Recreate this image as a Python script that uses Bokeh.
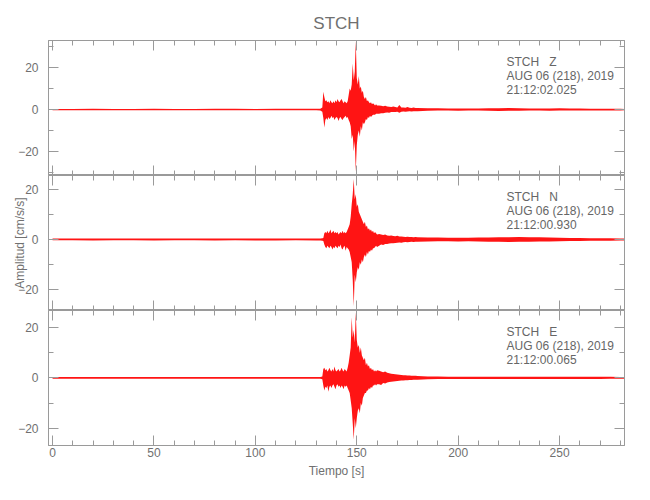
import math
from bokeh.plotting import figure
from bokeh.layouts import column
from bokeh.models import Range1d, LinearAxis, Label, FixedTicker, ColumnDataSource
from bokeh.embed import file_html
from bokeh.resources import INLINE

# ---------------- data ----------------
station = "STCH"
date_text = "AUG 06 (218), 2019"
components = ["Z", "N", "E"]
start_times = ["21:12:02.025", "21:12:00.930", "21:12:00.065"]

x_major_ticks = [0, 50, 100, 150, 200, 250]
x_minor_ticks = [0, 10, 20, 30, 40, 50, 60, 70, 80, 90, 100, 110, 120, 130, 140, 150,
                 160, 170, 180, 190, 200, 210, 220, 230, 240, 250, 260, 270, 280]
y_major_ticks = [-20, 0, 20]
y_minor_ticks = [-30, -20, -10, 0, 10, 20, 30]

# sample times [s]
quiet_t = [0, 10, 20, 30, 40, 50, 60, 70, 80, 90, 100, 110, 120, 130, 132]
event_t = [133, 133.5, 134, 134.5, 135, 135.5, 136, 136.5, 137, 137.5, 138, 138.5, 139, 139.5,
           140, 140.5, 141, 141.5, 142, 142.5, 143, 143.5, 144, 144.5, 145, 145.5, 146, 146.5,
           147, 147.5, 148, 148.5, 149, 149.5, 150, 150.5, 151, 151.5, 152, 152.5, 153, 153.5,
           154, 154.5, 155, 155.5, 156, 156.5, 157, 157.5, 158, 158.5, 159, 159.5, 160]
late_t = [161, 162, 163, 164, 165, 166, 167, 168, 169, 170, 171, 172, 173, 174, 175, 176,
          177, 178, 179, 180]
tail_t = [185, 190, 195, 200, 205, 210, 215, 220, 225, 230, 235, 240, 245, 250, 255, 260,
          265, 270, 275, 280, 282]

# Z component: upper / lower envelope of the trace [cm/s/s]
z_up_quiet = [0.3, 0.3, 0.35, 0.3, 0.3, 0.35, 0.3, 0.3, 0.35, 0.35, 0.3, 0.35, 0.35, 0.35, 0.4]
z_lo_quiet = [-0.3, -0.35, -0.3, -0.3, -0.35, -0.3, -0.3, -0.35, -0.3, -0.35, -0.35, -0.3, -0.35, -0.35, -0.4]
z_up_event = [1, 8.5, 6, 4, 4.5, 3.5, 4, 3, 4.5, 3.5, 3, 4, 3, 4.5, 3.5, 5, 4, 3.5, 4.5, 5,
              4, 3, 4, 3.5, 3, 4, 7, 10, 9, 12, 22, 14, 18, 32.5, 15, 12, 16, 10, 11, 8,
              9, 6, 5, 6, 4, 4.5, 3.5, 3, 3.5, 2.5, 3, 2.5, 2, 2.5, 2]
z_lo_event = [-1, -4, -8.5, -5, -4, -5, -3.5, -4.5, -4, -3, -4, -3.5, -5, -4, -3.5, -4, -5.5, -4, -3.5, -4.5,
              -5, -4, -3.5, -3, -4, -3.5, -5, -6, -8, -14, -12, -20, -15, -29.5, -17, -12, -10, -13, -8, -10,
              -6, -7, -6, -4.5, -5, -3.5, -4, -3, -3.5, -3, -2.5, -2.5, -2.5, -2, -2]
z_up_late = [2, 1.8, 1.6, 1.8, 1.5, 1.4, 1.2, 1.5, 1.2, 1.0, 2.2, 1.0, 1.0, 0.9, 1.2, 0.9, 0.8, 1.0, 0.8, 0.8]
z_lo_late = [-2, -1.7, -1.8, -1.5, -1.4, -1.5, -1.2, -1.2, -1.1, -1.0, -1.5, -1.0, -0.9, -1.0, -0.9, -0.8,
             -0.9, -0.8, -0.8, -0.8]
z_up_tail = [0.6, 0.6, 0.5, 0.5, 0.5, 0.5, 0.6, 0.6, 0.7, 0.6, 0.5, 0.5, 0.5, 0.6, 0.5, 0.5, 0.4, 0.4, 0.4, 0.4, 0.3]
z_lo_tail = [-0.6, -0.5, -0.5, -0.6, -0.5, -0.5, -0.6, -0.7, -0.6, -0.6, -0.5, -0.5, -0.6, -0.5, -0.5, -0.4,
             -0.4, -0.4, -0.4, -0.4, -0.3]

# N component
n_up_quiet = [0.35, 0.35, 0.35, 0.4, 0.35, 0.35, 0.4, 0.35, 0.35, 0.4, 0.4, 0.35, 0.4, 0.4, 0.4]
n_lo_quiet = [-0.35, -0.35, -0.4, -0.35, -0.35, -0.4, -0.35, -0.35, -0.4, -0.35, -0.4, -0.4, -0.35, -0.4, -0.4]
n_up_event = [0.5, 0.6, 2.5, 3, 2.5, 3.5, 2.5, 3, 4, 2.5, 3, 3.5, 2.5, 3, 2.5, 3, 2, 2.5, 3, 2.5,
              3.5, 2.5, 3, 2.5, 3, 4, 5, 6, 9, 14, 18, 24, 16, 18, 13, 14, 11, 10, 9, 8,
              7, 6, 7, 5, 5.5, 4, 4.5, 3.5, 4, 3, 3.5, 2.5, 3, 2.5, 2]
n_lo_event = [-0.5, -0.6, -2, -3, -3.5, -2.5, -3, -3.5, -2.5, -3, -4, -3, -3.5, -2.5, -3, -3.5, -2.5, -3, -2, -3.5,
              -4, -3, -2.5, -4.5, -3, -3.5, -4, -5, -7, -9, -16, -26.5, -14, -17, -13, -11, -12, -9, -10, -8,
              -9, -7, -6, -7, -5, -6, -4.5, -5, -4, -4.5, -3.5, -3.5, -3, -2.5, -3]
n_up_late = [2.2, 2, 1.8, 2, 1.6, 1.5, 1.6, 1.4, 1.3, 1.5, 1.2, 1.2, 1.1, 1.0, 1.1, 1.0, 1.0, 0.9, 1.0, 0.9]
n_lo_late = [-2.5, -2, -2.2, -1.8, -1.8, -1.6, -1.5, -1.5, -1.4, -1.3, -1.2, -1.3, -1.1, -1.0, -1.1, -1.0,
             -0.9, -1.0, -0.9, -0.9]
n_up_tail = [0.8, 0.8, 0.7, 0.7, 0.7, 0.8, 0.8, 0.9, 0.9, 1.0, 0.9, 0.9, 0.8, 0.7, 0.6, 0.6, 0.5, 0.5, 0.5, 0.4, 0.4]
n_lo_tail = [-0.8, -0.7, -0.7, -0.8, -0.7, -0.8, -0.9, -0.9, -1.0, -0.9, -0.9, -0.8, -0.8, -0.7, -0.6, -0.6,
             -0.5, -0.5, -0.5, -0.4, -0.4]

# E component
e_up_quiet = [0.35, 0.35, 0.3, 0.35, 0.35, 0.3, 0.35, 0.35, 0.35, 0.3, 0.35, 0.35, 0.35, 0.35, 0.35]
e_lo_quiet = [-0.35, -0.3, -0.35, -0.35, -0.3, -0.35, -0.35, -0.3, -0.35, -0.35, -0.35, -0.3, -0.35, -0.35, -0.35]
e_up_event = [0.5, 3.5, 4, 3, 3.5, 2.5, 3, 4, 3, 2.5, 3.5, 2.5, 4.5, 3, 2.5, 3, 3.5, 2.5, 3, 4,
              3, 2.5, 3.5, 3, 2.5, 4, 6, 9, 12, 24, 16, 19, 14, 26, 15, 12, 13, 10, 12, 9,
              8, 7, 8, 5, 6, 4.5, 5, 3.5, 4, 3, 3.5, 2.5, 3, 2.5, 3]
e_lo_event = [-0.5, -3, -5, -3.5, -4, -3, -5.5, -3.5, -3, -4, -3, -2.5, -3.5, -4.5, -3, -2.5, -3.5, -3, -4, -3,
              -3.5, -4.5, -3, -3.5, -3, -4, -5, -6, -9, -12, -18, -24.5, -16, -20, -16, -13, -12, -14, -10, -11,
              -8, -7, -6, -6, -5, -5, -4, -4.5, -3.5, -4, -3, -3, -2.5, -3, -2.5]
e_up_late = [2.8, 2.5, 2.2, 2.5, 2, 1.8, 1.6, 1.5, 1.4, 1.3, 1.2, 1.1, 1.0, 1.0, 0.9, 0.9, 0.8, 0.8, 0.8, 0.7]
e_lo_late = [-2.5, -2.8, -2, -2.2, -1.8, -1.6, -1.5, -1.4, -1.3, -1.2, -1.1, -1.0, -1.0, -0.9, -0.9, -0.8,
             -0.8, -0.7, -0.7, -0.7]
e_up_tail = [0.5, 0.5, 0.4, 0.4, 0.4, 0.4, 0.4, 0.4, 0.4, 0.4, 0.4, 0.4, 0.4, 0.4, 0.4, 0.4, 0.4, 0.4, 0.4, 0.3, 0.3]
e_lo_tail = [-0.5, -0.4, -0.4, -0.4, -0.4, -0.4, -0.4, -0.4, -0.4, -0.4, -0.4, -0.4, -0.4, -0.4, -0.4, -0.4,
             -0.4, -0.4, -0.3, -0.3, -0.3]

# y-axis limits of each panel
y_limits = [(-31.4, 32.9), (-28.2, 25.4), (-26.8, 26.7)]

# ---------------- build ----------------
times = quiet_t + event_t + late_t + tail_t
uppers = [z_up_quiet + z_up_event + z_up_late + z_up_tail,
          n_up_quiet + n_up_event + n_up_late + n_up_tail,
          e_up_quiet + e_up_event + e_up_late + e_up_tail]
lowers = [z_lo_quiet + z_lo_event + z_lo_late + z_lo_tail,
          n_lo_quiet + n_lo_event + n_lo_late + n_lo_tail,
          e_lo_quiet + e_lo_event + e_lo_late + e_lo_tail]

FONT = "Liberation Sans"
AX = "#9a9a9a"
TXT = "#707070"
RED = "#ff0000"

W = 640
FRAME_H = 135
LEFT = 48
x_range = Range1d(-2, 282)


def style_axis(ax, ticks, minor, show_labels, standoff):
    ax.ticker = FixedTicker(ticks=ticks, minor_ticks=minor)
    ax.axis_line_color = AX
    ax.major_tick_line_color = AX
    ax.minor_tick_line_color = AX
    ax.major_tick_in = 10
    ax.major_tick_out = 0
    ax.minor_tick_in = 5
    ax.minor_tick_out = 0
    ax.major_label_text_font = FONT
    if show_labels:
        ax.major_label_text_color = TXT
        ax.major_label_text_font_size = "12px"
        ax.major_label_standoff = standoff
    else:
        ax.major_label_text_color = None
        ax.major_label_text_font_size = "1px"
        ax.major_label_standoff = 0


figs = []
for i in range(3):
    top = 40 if i == 0 else 0
    bottom = 40 if i == 2 else 0
    p = figure(width=W, height=FRAME_H + top + bottom, x_range=x_range,
               y_range=Range1d(*y_limits[i]), output_backend="svg", toolbar_location=None,
               min_border_left=LEFT, min_border_right=16, min_border_top=top,
               min_border_bottom=bottom)
    p.xgrid.visible = False
    p.ygrid.visible = False
    p.outline_line_color = AX
    p.background_fill_color = "white"
    p.border_fill_color = "white"

    src = ColumnDataSource(dict(t=times, up=uppers[i], lo=lowers[i]))
    p.varea(x="t", y1="lo", y2="up", source=src, fill_color=RED, fill_alpha=0.92)

    x_bottom = p.below[0]
    y_left = p.left[0]
    style_axis(x_bottom, x_major_ticks, x_minor_ticks, i == 2, 2)
    style_axis(y_left, y_major_ticks, y_minor_ticks, True, 10)
    ax_top = LinearAxis()
    style_axis(ax_top, x_major_ticks, x_minor_ticks, False, 0)
    p.add_layout(ax_top, "above")
    ax_right = LinearAxis()
    style_axis(ax_right, y_major_ticks, y_minor_ticks, False, 0)
    p.add_layout(ax_right, "right")

    # y axis title: visible only on the middle panel, reserved on all for alignment
    y_left.axis_label = "Amplitud [cm/s/s]"
    y_left.axis_label_text_font = FONT
    y_left.axis_label_text_font_size = "12px"
    y_left.axis_label_text_font_style = "normal"
    y_left.axis_label_standoff = -12
    y_left.axis_label_text_color = TXT if i == 1 else None

    if i == 2:
        x_bottom.axis_label = "Tiempo [s]"
        x_bottom.axis_label_text_font = FONT
        x_bottom.axis_label_text_font_size = "12px"
        x_bottom.axis_label_text_font_style = "normal"
        x_bottom.axis_label_text_color = TXT
        x_bottom.axis_label_standoff = 4

    if i == 0:
        p.title.text = station
        p.title.align = "center"
        p.title.text_font = FONT
        p.title.text_font_size = "17px"
        p.title.text_font_style = "normal"
        p.title.text_color = TXT
        p.title.standoff = 16

    lines = [station + "\u00a0\u00a0\u00a0" + components[i], date_text, start_times[i]]
    for k, txt in enumerate(lines):
        p.add_layout(Label(x=458, y=FRAME_H - 21.5 - 14.2 * k, x_units="screen", y_units="screen",
                           text=txt, text_font=FONT, text_font_size="12px", text_color="#666666",
                           text_align="left", text_baseline="middle"))
    figs.append(p)

layout = column(*figs, spacing=0)
open("out.html", "w").write(file_html(layout, INLINE))
